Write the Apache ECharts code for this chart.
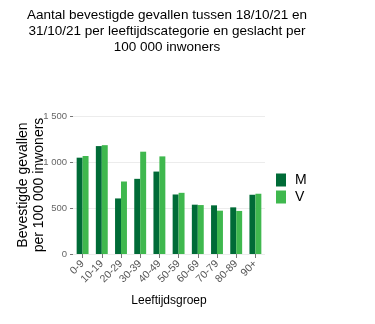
<!DOCTYPE html>
<html><head><meta charset="utf-8">
<script src="https://cdn.jsdelivr.net/npm/echarts@6/dist/echarts.min.js"></script>
<style>html,body{margin:0;padding:0;background:#fff}#c{width:375px;height:324px}</style>
</head><body><div id="c"></div>
<script>
const categories = ['0-9','10-19','20-29','30-39','40-49','50-59','60-69','70-79','80-89','90+'];
const seriesM = [1047,1173,604,817,896,647,536,529,507,644];
const seriesV = [1065,1183,788,1112,1061,665,532,471,468,655];
const yTicks = [0,500,1000,1500];
const chart = echarts.init(document.getElementById('c'), null, {renderer:'canvas'});
chart.setOption({
  animation:false,
  title:{text:'Aantal bevestigde gevallen tussen 18/10/21 en\n31/10/21 per leeftijdscategorie en geslacht per\n100 000 inwoners',
    left:162, top:2, textAlign:'center',
    textStyle:{fontFamily:'Liberation Sans',fontSize:13.5,fontWeight:'normal',color:'#000',lineHeight:16}},
  legend:{orient:'vertical', left:271, top:168, itemWidth:10, itemHeight:13, itemGap:3,
    icon:'rect', textStyle:{fontFamily:'Liberation Sans',fontSize:14,color:'#000',padding:[0,0,0,4]}},
  grid:{left:73, right:110, top:116, bottom:70, outerBoundsMode:'none', containLabel:false},
  xAxis:{type:'category', data:categories,
    name:'Leeftijdsgroep', nameLocation:'middle', nameGap:41,
    nameTextStyle:{fontFamily:'Liberation Sans',fontSize:12,color:'#000'},
    axisLine:{show:false}, axisTick:{show:true,alignWithLabel:true,length:4,lineStyle:{color:'#777'}},
    axisLabel:{rotate:45, fontFamily:'Liberation Sans', fontSize:10.5, color:'#555', margin:8, interval:0}},
  yAxis:{type:'value', min:0, max:1500, interval:500,
    name:'Bevestigde gevallen\nper 100 000 inwoners', nameLocation:'middle', nameGap:26, nameRotate:90,
    nameMoveOverlap:false,
    nameTextStyle:{fontFamily:'Liberation Sans',fontSize:14,color:'#000',lineHeight:16},
    axisLine:{show:false}, axisTick:{show:true,length:3,lineStyle:{color:'#777'}},
    splitLine:{lineStyle:{color:'#ececec'}},
    axisLabel:{fontFamily:'Liberation Sans',fontSize:9.5,color:'#666',margin:6,
      formatter:v=>yTicks.includes(v)?String(v).replace(/\B(?=(\d{3})+(?!\d))/g,' '):''}},
  series:[
    {name:'M', type:'bar', data:seriesM, barGap:'0%', barCategoryGap:'38%',
      itemStyle:{color:'#006b37'}},
    {name:'V', type:'bar', data:seriesV, itemStyle:{color:'#3fb84e'}}
  ]
});
</script></body></html>
